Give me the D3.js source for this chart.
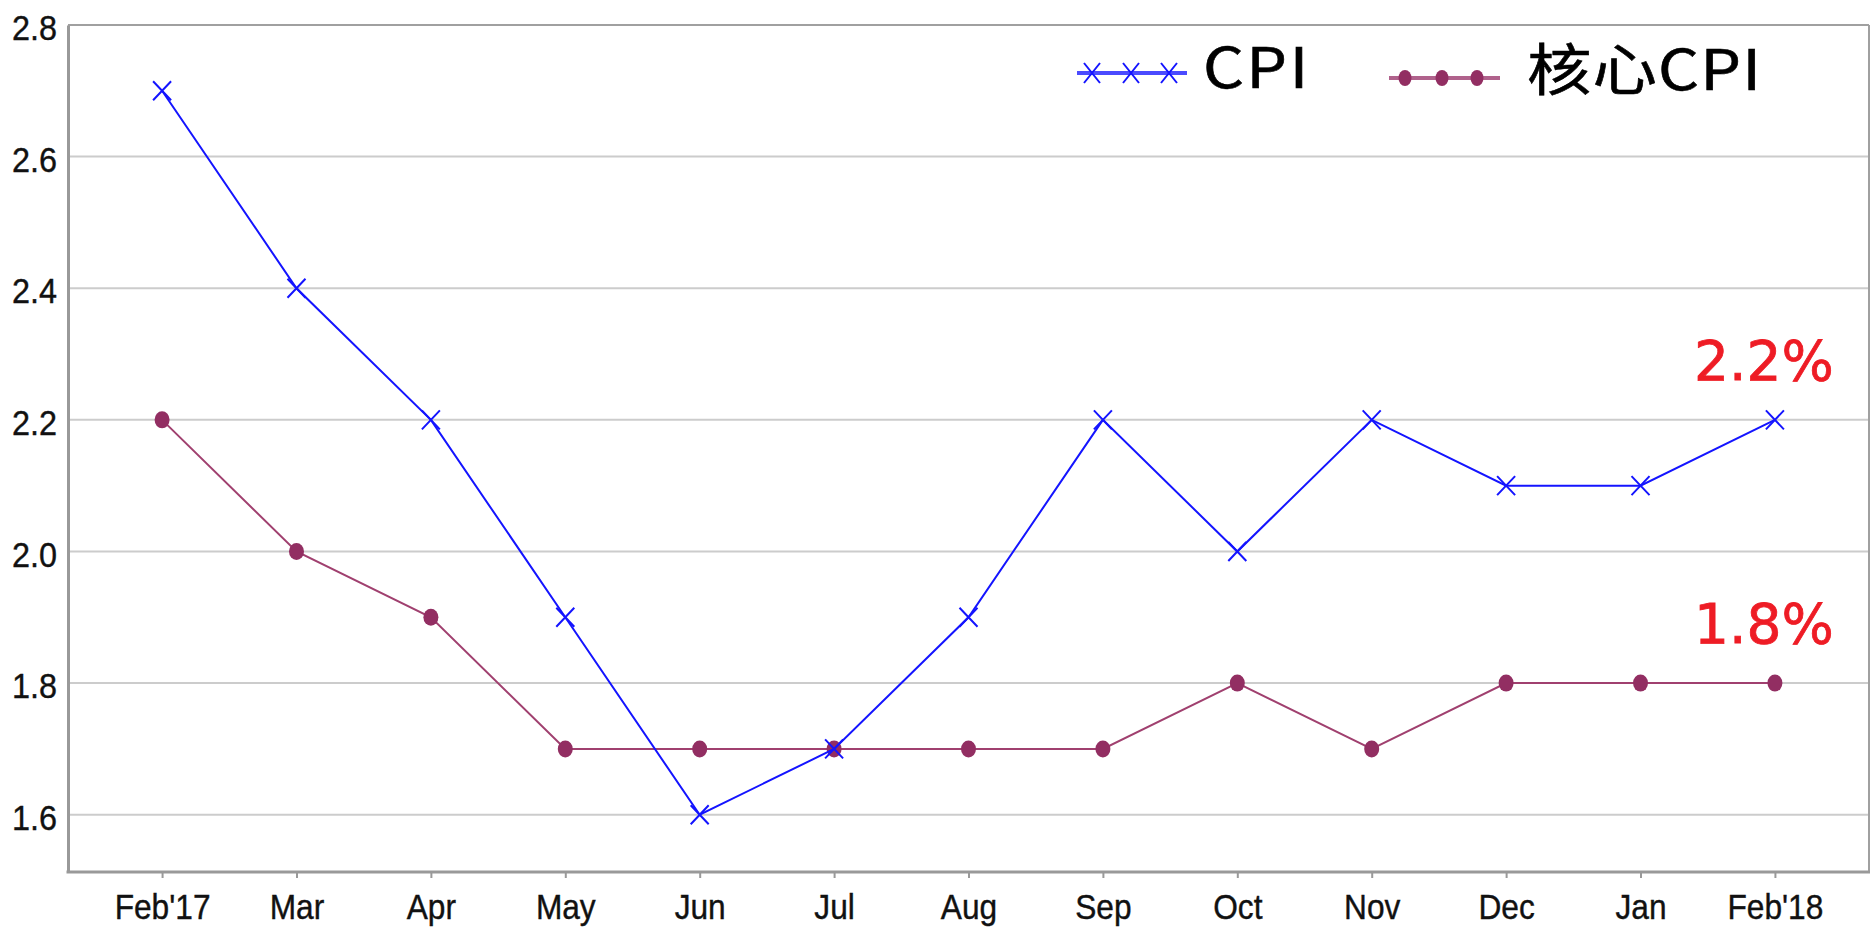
<!DOCTYPE html>
<html lang="zh">
<head>
    <meta charset="UTF-8">
    <title>CPI</title>
    <style>
        body { margin: 0; background: #fff; }
        text { font-family: "Liberation Sans", Arial, sans-serif; }
    </style>
</head>
<script src="https://cdn.jsdelivr.net/npm/d3@7"></script>
<body>
</body>
<script>
    var months = ["Feb'17", 'Mar', 'Apr', 'May', 'Jun', 'Jul', 'Aug', 'Sep', 'Oct', 'Nov', 'Dec', 'Jan', "Feb'18"]
    var cpi = [2.7, 2.4, 2.2, 1.9, 1.6, 1.7, 1.9, 2.2, 2.0, 2.2, 2.1, 2.1, 2.2]
    var coreCpi = [2.2, 2.0, 1.9, 1.7, 1.7, 1.7, 1.7, 1.7, 1.8, 1.7, 1.8, 1.8, 1.8]
    var yTicks = [1.6, 1.8, 2.0, 2.2, 2.4, 2.6, 2.8]
    var seriesNames = ['CPI', '核心CPI']
    var endLabels = ['2.2%', '1.8%']

    var width = 1874,
        height = 929,
        pad = { left: 68, right: 1869, top: 25, bottom: 872 },
        blue = '#1414ff',
        plum = '#a0406f',
        plumDot = '#922e62'

    var svg = d3.select('body').append('svg')
        .attr('width', width)
        .attr('height', height)

    var x = d3.scalePoint()
        .domain(months)
        .range([pad.left, pad.right])
        .padding(0.7)

    var y = d3.scaleLinear()
        .domain([1.513, 2.8])
        .range([pad.bottom, pad.top])

    // grid lines
    svg.append('g')
        .selectAll('line')
        .data(yTicks.filter(d => d < 2.8))
        .enter()
        .append('line')
        .attr('x1', pad.left).attr('x2', pad.right)
        .attr('y1', d => y(d)).attr('y2', d => y(d))
        .attr('stroke', '#cccccc')
        .attr('stroke-width', 2)

    // frame
    svg.append('line').attr('x1', pad.left).attr('x2', pad.right).attr('y1', pad.top).attr('y2', pad.top)
        .attr('stroke', '#a0a0a0').attr('stroke-width', 2)
    svg.append('line').attr('x1', pad.right).attr('x2', pad.right).attr('y1', pad.top).attr('y2', pad.bottom)
        .attr('stroke', '#a0a0a0').attr('stroke-width', 2)

    // y axis
    var yAxis = svg.append('g')
        .attr('transform', 'translate(' + pad.left + ',0)')
        .call(d3.axisLeft(y).tickValues(yTicks).tickSize(0).tickFormat(d3.format('.1f')))
    yAxis.select('.domain').attr('stroke', '#999').attr('stroke-width', 3)
    yAxis.selectAll('text')
        .attr('x', 0).attr('dy', null)
        .attr('dominant-baseline', 'central')
        .attr('text-anchor', 'end')
        .attr('fill', '#111')
        .attr('stroke', '#111').attr('stroke-width', 0.4)
        .style('font-size', '36px')
        .attr('transform', 'translate(-11,2) scale(0.9,1)')
        .attr('y', 0)

    // x axis
    var xAxis = svg.append('g')
        .attr('transform', 'translate(0,' + pad.bottom + ')')
        .call(d3.axisBottom(x).tickSize(6).tickSizeOuter(0))
    xAxis.select('.domain').attr('stroke', '#999').attr('stroke-width', 3)
        .attr('d', 'M' + (pad.left - 1.5) + ',0H' + (pad.right + 1))
    xAxis.selectAll('.tick line').attr('stroke', '#999').attr('stroke-width', 2)
    xAxis.selectAll('text')
        .attr('y', 0).attr('dy', null)
        .attr('fill', '#111')
        .attr('stroke', '#111').attr('stroke-width', 0.4)
        .style('font-size', '36px')
        .attr('transform', 'translate(0,47) scale(0.88,1)')

    // lines
    var line = d3.line()
        .x((d, i) => x(months[i]))
        .y(d => y(d))

    svg.append('path')
        .datum(coreCpi)
        .attr('d', line)
        .attr('fill', 'none')
        .attr('stroke', plum)
        .attr('stroke-width', 2)

    svg.append('g')
        .selectAll('ellipse')
        .data(coreCpi)
        .enter()
        .append('ellipse')
        .attr('cx', (d, i) => x(months[i]))
        .attr('cy', d => y(d))
        .attr('rx', 7.5).attr('ry', 8.5)
        .attr('fill', plumDot)

    svg.append('path')
        .datum(cpi)
        .attr('d', line)
        .attr('fill', 'none')
        .attr('stroke', blue)
        .attr('stroke-width', 2)

    var cross = function (sel, cx, cy, sx, sy) {
        sel.append('path')
            .attr('d', 'M' + (cx - sx) + ',' + (cy - sy) + 'L' + (cx + sx) + ',' + (cy + sy) +
                'M' + (cx - sx) + ',' + (cy + sy) + 'L' + (cx + sx) + ',' + (cy - sy))
            .attr('stroke', blue)
            .attr('stroke-width', 2)
            .attr('fill', 'none')
    }

    var crosses = svg.append('g')
    cpi.forEach(function (d, i) {
        cross(crosses, x(months[i]), y(d), 9, 9.5)
    })

    // legend
    var lg = svg.append('g')
    lg.append('line').attr('x1', 1077).attr('x2', 1187).attr('y1', 73).attr('y2', 73)
        .attr('stroke', '#4b4bff').attr('stroke-width', 4)
    ;[1092, 1131, 1169].forEach(function (cx) { cross(lg, cx, 73, 8, 10) })
    lg.append('text')
        .attr('transform', 'translate(1203,88) scale(1.15,1)')
        .style('font-family', '"Noto Sans CJK SC", sans-serif')
        .style('font-size', '56px')
        .style('letter-spacing', '2px')
        .attr('fill', '#000')
        .attr('stroke', '#000').attr('stroke-width', 0.6)
        .text(seriesNames[0])

    lg.append('line').attr('x1', 1389).attr('x2', 1500).attr('y1', 78).attr('y2', 78)
        .attr('stroke', '#b0628c').attr('stroke-width', 4)
    lg.selectAll('ellipse')
        .data([1405, 1442, 1477])
        .enter()
        .append('ellipse')
        .attr('cx', d => d).attr('cy', 78)
        .attr('rx', 6.5).attr('ry', 8)
        .attr('fill', plumDot)
    lg.append('text')
        .attr('transform', 'translate(1527,90) scale(1.15,1)')
        .style('font-family', '"Noto Sans CJK SC", sans-serif')
        .style('font-size', '56px')
        .style('letter-spacing', '1px')
        .attr('fill', '#000')
        .attr('stroke', '#000').attr('stroke-width', 0.6)
        .text(seriesNames[1])

    // end labels
    svg.selectAll('.endlabel')
        .data([cpi[cpi.length - 1], coreCpi[coreCpi.length - 1]])
        .enter()
        .append('text')
        .attr('class', 'endlabel')
        .attr('x', x(months[months.length - 1]) - 11)
        .attr('y', d => y(d) - 40)
        .attr('text-anchor', 'middle')
        .style('font-family', '"DejaVu Sans", sans-serif')
        .style('font-size', '55px')
        .attr('fill', '#ee1c25')
        .attr('stroke', '#ee1c25')
        .attr('stroke-width', 0.8)
        .text((d, i) => endLabels[i])
</script>
</html>
